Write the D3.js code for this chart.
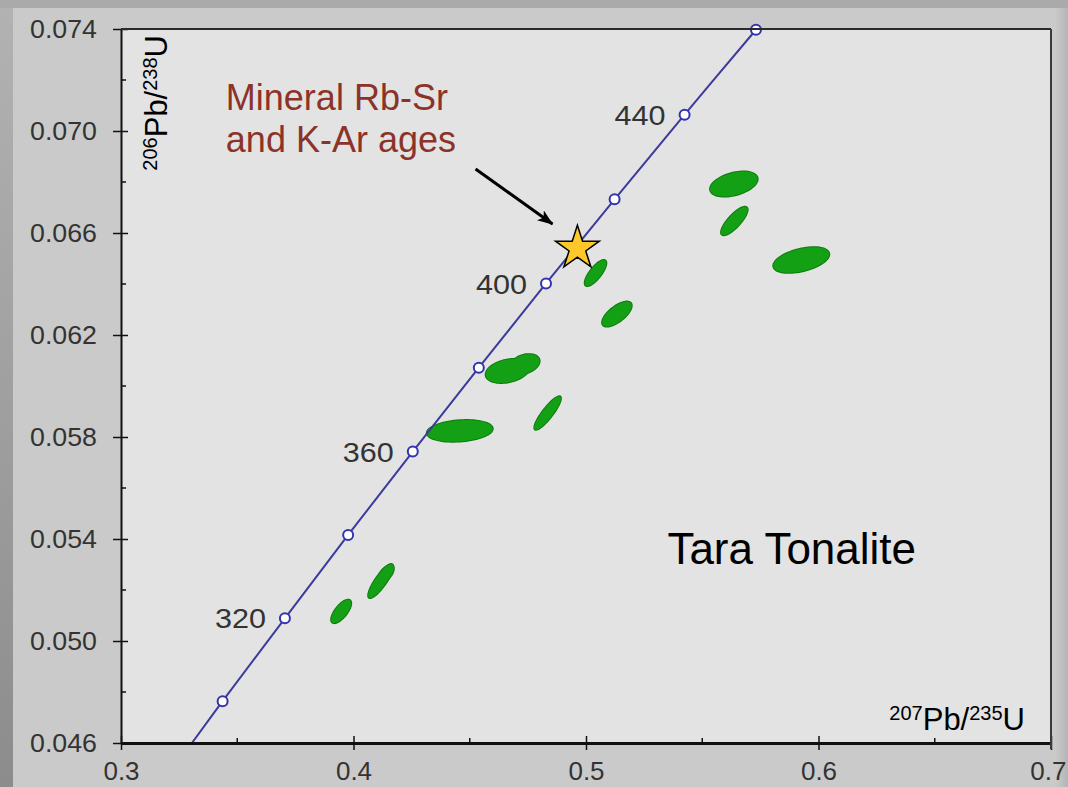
<!DOCTYPE html>
<html>
<head>
<meta charset="utf-8">
<script src="https://cdn.jsdelivr.net/npm/d3@7"></script>
<style>
  html, body { margin: 0; padding: 0; background: #aaaaaa; }
  svg { display: block; font-family: "Liberation Sans", Arial, Helvetica, sans-serif; }
</style>
</head>
<body>
<svg id="chart" width="1068" height="787"></svg>
<script>
// ---------- data ----------
const xTicks = [0.3, 0.4, 0.5, 0.6, 0.7];
const xMinorTicks = [0.35, 0.45, 0.55, 0.65];
const yTicks = [0.046, 0.050, 0.054, 0.058, 0.062, 0.066, 0.070, 0.074];
const yMinorTicks = [0.048, 0.052, 0.056, 0.060, 0.064, 0.068, 0.072];

// concordia curve points (Ma, 207Pb/235U, 206Pb/238U)
const concordiaAge = [290, 300, 320, 340, 360, 380, 400, 420, 440, 460];
const concordiaX   = [0.3305, 0.3437, 0.3705, 0.3977, 0.4255, 0.4539, 0.4828, 0.5123, 0.5424, 0.5731];
const concordiaY   = [0.0460, 0.04764, 0.05089, 0.05416, 0.05743, 0.06072, 0.06402, 0.06732, 0.07064, 0.07397];
const markerAges   = [300, 320, 340, 360, 380, 400, 420, 440, 460];
const labelAges    = [320, 360, 400, 440];

// zircon analyses: centre, half-errors and error correlation
const ellX   = [0.5636, 0.5638, 0.5926, 0.5041, 0.5133, 0.4663, 0.4736, 0.4835, 0.4457, 0.3947, 0.4117, 0.4139];
const ellY   = [0.06792, 0.06647, 0.06494, 0.06443, 0.06282, 0.06059, 0.06086, 0.05894, 0.05824, 0.05116, 0.05235, 0.05263];
const ellSX  = [0.01023, 0.00571, 0.01203, 0.00464, 0.00636, 0.00945, 0.00644, 0.00571, 0.01418, 0.00430, 0.00537, 0.00344];
const ellSY  = [0.00049, 0.000557, 0.000502, 0.00051, 0.00049, 0.00047, 0.00039, 0.000655, 0.000424, 0.000459, 0.000667, 0.000353];
const ellRho = [0.40, 0.80, 0.45, 0.77, 0.68, 0.30, 0.30, 0.88, 0.20, 0.70, 0.85, 0.60];

// mineral Rb-Sr / K-Ar age
const starX = [0.4963];
const starY = [0.06540];

// annotations
const noteLines = ["Mineral Rb-Sr", "and K-Ar ages"];
const noteX = 0.3451, noteY = 0.07082;
const arrowFrom = [0.4525, 0.06851];
const arrowTo   = [0.4856, 0.06635];
const titleText = "Tara Tonalite";
const titleX = 0.5350, titleY = 0.05302;

// ---------- drawing ----------
const W = 1068, H = 787;
const plot = { left: 121, right: 1051, top: 29, bottom: 743 };
const svg = d3.select("#chart");

const defs = svg.append("defs");
const lg = defs.append("linearGradient").attr("id", "leftStrip").attr("x1", 0).attr("y1", 0).attr("x2", 0).attr("y2", 1);
lg.append("stop").attr("offset", "0%").attr("stop-color", "#b2b2b2");
lg.append("stop").attr("offset", "60%").attr("stop-color", "#9c9c9c");
lg.append("stop").attr("offset", "100%").attr("stop-color", "#8c8c8c");
const rg = defs.append("linearGradient").attr("id", "rightStrip").attr("x1", 0).attr("y1", 0).attr("x2", 1).attr("y2", 0);
rg.append("stop").attr("offset", "0%").attr("stop-color", "#c9c9c9");
rg.append("stop").attr("offset", "100%").attr("stop-color", "#b4b4b4");

// background
svg.append("rect").attr("width", W).attr("height", H).attr("fill", "#aaaaaa");
svg.append("rect").attr("x", 0).attr("y", 8).attr("width", 13).attr("height", H - 8).attr("fill", "url(#leftStrip)");
svg.append("rect").attr("x", 13).attr("y", 8).attr("width", W - 13).attr("height", H - 8).attr("fill", "#cacaca");
svg.append("rect").attr("x", 1056).attr("y", 8).attr("width", 12).attr("height", H - 8).attr("fill", "url(#rightStrip)");

const x = d3.scaleLinear().domain([0.3, 0.7]).range([plot.left, plot.right]);
const y = d3.scaleLinear().domain([0.046, 0.074]).range([plot.bottom, plot.top]);

// plot area
svg.append("rect")
  .attr("x", plot.left).attr("y", plot.top)
  .attr("width", plot.right - plot.left).attr("height", plot.bottom - plot.top)
  .attr("fill", "#e3e3e3");

defs.append("clipPath").attr("id", "plotClip").append("rect")
  .attr("x", plot.left).attr("y", plot.top)
  .attr("width", plot.right - plot.left).attr("height", plot.bottom - plot.top);

// ellipses: outline pass then fill pass so overlapping ellipses merge
const ellG = svg.append("g").attr("clip-path", "url(#plotClip)");
const steps = d3.range(0, 73).map(i => i / 72 * 2 * Math.PI);
const ellPaths = ellX.map((cx, i) => {
  const sx = ellSX[i], sy = ellSY[i], r = ellRho[i];
  const pts = steps.map(t => [
    x(cx + sx * Math.cos(t)),
    y(ellY[i] + sy * (r * Math.cos(t) + Math.sqrt(1 - r * r) * Math.sin(t)))
  ]);
  return d3.line()(pts) + "Z";
});
ellG.append("g").selectAll("path").data(ellPaths).join("path")
  .attr("d", d => d).attr("fill", "#0e7a0e").attr("stroke", "#0e7a0e").attr("stroke-width", 2);
ellG.append("g").selectAll("path").data(ellPaths).join("path")
  .attr("d", d => d).attr("fill", "#14a014");

// concordia
const conc = concordiaAge.map((a, i) => ({ age: a, x: concordiaX[i], y: concordiaY[i] }));
svg.append("path")
  .datum(conc)
  .attr("clip-path", "url(#plotClip)")
  .attr("fill", "none")
  .attr("stroke", "#3b3b9c")
  .attr("stroke-width", 2)
  .attr("d", d3.line().x(d => x(d.x)).y(d => y(d.y)).curve(d3.curveCatmullRom));

const markers = conc.filter(d => markerAges.includes(d.age));
svg.append("g").selectAll("circle").data(markers).join("circle")
  .attr("cx", d => x(d.x)).attr("cy", d => y(d.y)).attr("r", 5)
  .attr("fill", "#ffffff").attr("stroke", "#3333b0").attr("stroke-width", 2);

svg.append("g").selectAll("text").data(markers.filter(d => labelAges.includes(d.age))).join("text")
  .attr("x", d => x(d.x) - 19).attr("y", d => y(d.y)).attr("dy", "0.36em")
  .attr("text-anchor", "end").attr("font-size", 28).attr("fill", "#333333")
  .attr("textLength", 51).attr("lengthAdjust", "spacingAndGlyphs")
  .text(d => d.age);

// axes
const yAxis = d3.axisLeft(y).tickValues(yTicks).tickFormat(d3.format(".3f"))
  .tickSizeInner(8).tickSizeOuter(0).tickPadding(16);
const gy = svg.append("g").attr("transform", `translate(${plot.left},0)`).call(yAxis);
gy.select(".domain").attr("stroke", "#111").attr("stroke-width", 2);
gy.selectAll(".tick line").attr("x1", 7).attr("stroke", "#111").attr("stroke-width", 1.5);
gy.selectAll(".tick text").attr("font-size", 26).attr("fill", "#333333")
  .attr("textLength", 67).attr("lengthAdjust", "spacingAndGlyphs")
  .attr("font-family", "'Liberation Sans', Arial, sans-serif");
svg.append("g").selectAll("line").data(yMinorTicks).join("line")
  .attr("x1", plot.left).attr("x2", plot.left + 5)
  .attr("y1", d => y(d)).attr("y2", d => y(d))
  .attr("stroke", "#111").attr("stroke-width", 1.5);

const xAxis = d3.axisBottom(x).tickValues(xTicks).tickFormat(d3.format(".1f"))
  .tickSizeInner(7).tickSizeOuter(0).tickPadding(12);
const gx = svg.append("g").attr("transform", `translate(0,${plot.bottom})`).call(xAxis);
gx.select(".domain").attr("stroke", "#111").attr("stroke-width", 3);
gx.selectAll(".tick line").attr("y1", -7).attr("stroke", "#111").attr("stroke-width", 1.5);
gx.selectAll(".tick text").attr("font-size", 26).attr("fill", "#333333")
  .attr("font-family", "'Liberation Sans', Arial, sans-serif");
// keep the last label inside the picture
gx.selectAll(".tick text").filter(d => d === xTicks[xTicks.length - 1])
  .attr("text-anchor", "end").attr("dx", W - 2 - plot.right);
svg.append("g").selectAll("line").data(xMinorTicks).join("line")
  .attr("x1", d => x(d)).attr("x2", d => x(d))
  .attr("y1", plot.bottom).attr("y2", plot.bottom - 5)
  .attr("stroke", "#111").attr("stroke-width", 1.5);

// top and right frame
svg.append("line").attr("x1", plot.left).attr("x2", plot.right).attr("y1", plot.top).attr("y2", plot.top)
  .attr("stroke", "#2a2a2a").attr("stroke-width", 2);
svg.append("line").attr("x1", plot.right).attr("x2", plot.right).attr("y1", plot.top).attr("y2", plot.bottom + 6)
  .attr("stroke", "#3a3a3a").attr("stroke-width", 2);

// axis titles
const xt = svg.append("text").attr("x", 1025).attr("y", 730).attr("text-anchor", "end").attr("fill", "#000");
xt.append("tspan").attr("font-size", 20).attr("dy", -10).text("207");
xt.append("tspan").attr("font-size", 31).attr("dy", 10).text("Pb/");
xt.append("tspan").attr("font-size", 20).attr("dy", -10).text("235");
xt.append("tspan").attr("font-size", 31).attr("dy", 10).text("U");

const yt = svg.append("text").attr("transform", "translate(167,35) rotate(-90)")
  .attr("text-anchor", "end").attr("fill", "#000");
yt.append("tspan").attr("font-size", 20).attr("dy", -10).text("206");
yt.append("tspan").attr("font-size", 31).attr("dy", 10).text("Pb/");
yt.append("tspan").attr("font-size", 20).attr("dy", -10).text("238");
yt.append("tspan").attr("font-size", 31).attr("dy", 10).text("U");

// annotation
const note = svg.append("text").attr("x", x(noteX)).attr("y", y(noteY))
  .attr("font-size", 36).attr("fill", "#8c3329");
noteLines.forEach((t, i) => {
  note.append("tspan").attr("x", x(noteX)).attr("dy", i === 0 ? 0 : 42).text(t);
});

defs.append("marker").attr("id", "arrowHead")
  .attr("viewBox", "0 0 16 12").attr("refX", 15).attr("refY", 6)
  .attr("markerWidth", 16).attr("markerHeight", 12).attr("markerUnits", "userSpaceOnUse")
  .attr("orient", "auto")
  .append("path").attr("d", "M0,0 L16,6 L0,12 L4,6 Z").attr("fill", "#000");
svg.append("line")
  .attr("x1", x(arrowFrom[0])).attr("y1", y(arrowFrom[1]))
  .attr("x2", x(arrowTo[0])).attr("y2", y(arrowTo[1]))
  .attr("stroke", "#000").attr("stroke-width", 3)
  .attr("marker-end", "url(#arrowHead)");

// star
svg.append("g").selectAll("path").data(starX.map((d, i) => [d, starY[i]])).join("path")
  .attr("transform", d => `translate(${x(d[0])},${y(d[1])})`)
  .attr("d", d3.symbol(d3.symbolStar, 594)())
  .attr("fill", "#ffc82a").attr("stroke", "#000").attr("stroke-width", 1.5);

// title label
svg.append("text").attr("x", x(titleX)).attr("y", y(titleY))
  .attr("font-size", 44).attr("fill", "#000").text(titleText);
</script>
</body>
</html>
